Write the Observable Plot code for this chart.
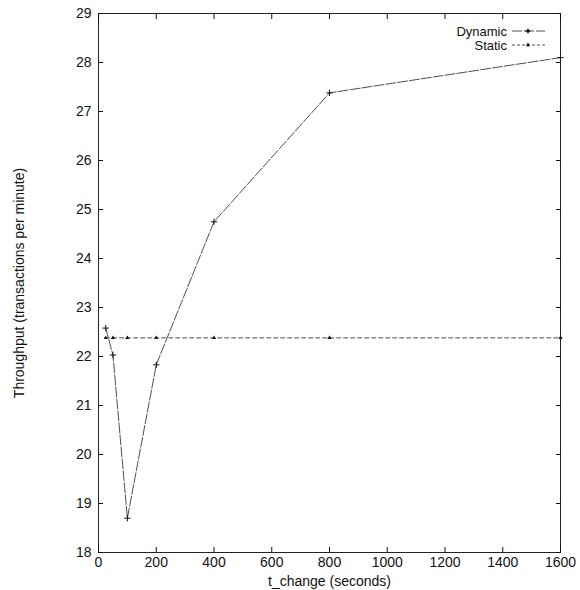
<!DOCTYPE html>
<html><head><meta charset="utf-8">
<script src="https://cdn.jsdelivr.net/npm/d3@7"></script>
<script src="https://cdn.jsdelivr.net/npm/@observablehq/plot@0.6"></script>
<style>
body{margin:0;background:#fff}
#chart{position:relative;width:580px;height:590px;font-family:"Liberation Sans",Arial,sans-serif}
#chart svg{overflow:visible}
#legend{position:absolute;left:0;top:0}
</style>
</head><body><div id="chart"></div>
<script>
const tChange = [25, 50, 100, 200, 400, 800, 1600];
const dynamicThroughput = [22.58, 22.03, 18.7, 21.83, 24.75, 27.38, 28.1];
const staticThroughput = [22.38, 22.38, 22.38, 22.38, 22.38, 22.38, 22.38];
const seriesNames = ["Dynamic", "Static"];
const xTicks = [0, 200, 400, 600, 800, 1000, 1200, 1400, 1600];
const yTicks = [18, 19, 20, 21, 22, 23, 24, 25, 26, 27, 28, 29];

const dyn = tChange.map((t, i) => ({t, v: dynamicThroughput[i]}));
const sta = tChange.map((t, i) => ({t, v: staticThroughput[i]}));

const ink = "#3a3a3a";
const plot = Plot.plot({
  width: 580, height: 590,
  marginLeft: 98, marginRight: 20, marginTop: 13, marginBottom: 38,
  style: {fontFamily: '"Liberation Sans", Arial, sans-serif', fontSize: "14px", color: "#111", background: "#fff"},
  x: {domain: [0, 1600]},
  y: {domain: [18, 29]},
  marks: [
    Plot.frame({stroke: "#222", strokeWidth: 1}),
    Plot.axisX({ticks: xTicks, tickFormat: "d", tickSize: -5, tickPadding: 10, label: "t_change (seconds)", labelAnchor: "center", labelArrow: "none", labelOffset: 33}),
    Plot.axisX({anchor: "top", ticks: xTicks, tickSize: -5, tickFormat: () => "", label: null}),
    Plot.axisY({ticks: yTicks, tickFormat: "d", tickSize: -5, tickPadding: 12, label: "Throughput (transactions per minute)", labelAnchor: "center", labelArrow: "none", labelOffset: 84}),
    Plot.axisY({anchor: "right", ticks: yTicks, tickSize: -5, tickFormat: () => "", label: null}),
    Plot.line(sta, {x: "t", y: "v", stroke: ink, strokeWidth: 0.9, strokeDasharray: "4,3"}),
    Plot.line(dyn, {x: "t", y: "v", stroke: ink, strokeWidth: 0.9, strokeDasharray: "10,2"}),
    Plot.dot(sta, {x: "t", y: "v", symbol: "triangle", r: 1.6, fill: "#111"}),
    Plot.dot(dyn, {x: "t", y: "v", symbol: "plus", r: 2.2, stroke: "#111", strokeWidth: 1})
  ]
});
const chart = document.getElementById("chart");
chart.appendChild(plot);

// legend (inside top-right of the frame)
const ns = "http://www.w3.org/2000/svg";
const leg = document.createElementNS(ns, "svg");
leg.setAttribute("id", "legend");
leg.setAttribute("width", 580); leg.setAttribute("height", 60);
const styles = [{dash: "10,2", sym: "plus"}, {dash: "3,2", sym: "triangle"}];
seriesNames.forEach((name, i) => {
  const y = 31 + i * 14;
  const tx = document.createElementNS(ns, "text");
  tx.setAttribute("x", 507); tx.setAttribute("y", y);
  tx.setAttribute("text-anchor", "end"); tx.setAttribute("dominant-baseline", "central");
  tx.setAttribute("font-size", "13"); tx.setAttribute("fill", "#111");
  tx.setAttribute("font-family", '"Liberation Sans", Arial, sans-serif');
  tx.textContent = name;
  leg.appendChild(tx);
  const ln = document.createElementNS(ns, "line");
  ln.setAttribute("x1", 512); ln.setAttribute("x2", 545);
  ln.setAttribute("y1", y); ln.setAttribute("y2", y);
  ln.setAttribute("stroke", ink); ln.setAttribute("stroke-width", 0.9);
  ln.setAttribute("stroke-dasharray", styles[i].dash);
  leg.appendChild(ln);
  const sym = d3.symbol(styles[i].sym === "plus" ? d3.symbolCross : d3.symbolTriangle, i === 0 ? 12 : 8)();
  const p = document.createElementNS(ns, "path");
  p.setAttribute("d", sym);
  p.setAttribute("transform", `translate(528,${y})`);
  p.setAttribute("fill", "#111");
  leg.appendChild(p);
});
chart.appendChild(leg);
</script>
</body></html>
